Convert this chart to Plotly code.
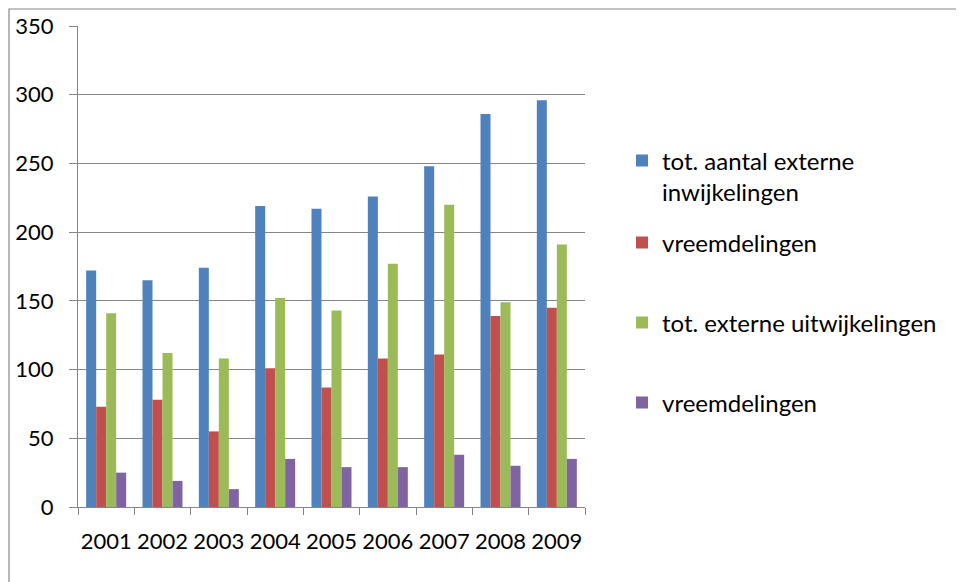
import plotly.graph_objects as go

years = ["2001", "2002", "2003", "2004", "2005", "2006", "2007", "2008", "2009"]
inwijk_totaal = [172, 165, 174, 219, 217, 226, 248, 286, 296]
inwijk_vreemd = [73, 78, 55, 101, 87, 108, 111, 139, 145]
uitwijk_totaal = [141, 112, 108, 152, 143, 177, 220, 149, 191]
uitwijk_vreemd = [25, 19, 13, 35, 29, 29, 38, 30, 35]

names = ["tot. aantal externe<br>inwijkelingen", "vreemdelingen",
         "tot. externe uitwijkelingen", "vreemdelingen"]
colors = ["#4F81BD", "#C0504D", "#9BBB59", "#8064A2"]
series = [inwijk_totaal, inwijk_vreemd, uitwijk_totaal, uitwijk_vreemd]
legends = ["legend", "legend2", "legend3", "legend4"]

FONT = "Lato"
fig = go.Figure()
for nm, col, vals, lg in zip(names, colors, series, legends):
    fig.add_trace(go.Bar(x=years, y=vals, name=nm, marker_color=col,
                         marker_line_width=0, legend=lg, showlegend=True))

# page body has an 8px margin: compensate so screen positions match
OX, OY = 8, 8
W, H = 964, 582
L, T = 78 - OX, 26 - OY
R = W - (585 - OX)
B = H - (507 - OY)
pw, ph = W - L - R, H - T - B

def px_x(p):
    return (p - OX - L) / pw

def px_y(p):
    return (H - B - (p - OY)) / ph

leg_common = dict(font=dict(family=FONT, size=24, color="#000000"),
                  bgcolor="rgba(0,0,0,0)", xanchor="left", itemwidth=30,
                  itemclick=False, valign="top", yanchor="middle")
lx = px_x(622)
fig.update_layout(
    width=W, height=H,
    margin=dict(l=L, r=R, t=T, b=B, pad=0, autoexpand=False),
    showlegend=True,
    paper_bgcolor="white", plot_bgcolor="white",
    barmode="group", bargap=0.29, bargroupgap=0,
    font=dict(family=FONT, size=22, color="#000000"),
    legend=dict(x=lx, y=px_y(176.5), **leg_common),
    legend2=dict(x=lx, y=px_y(243), **leg_common),
    legend3=dict(x=lx, y=px_y(323), **leg_common),
    legend4=dict(x=lx, y=px_y(403), **leg_common),
    xaxis=dict(showgrid=False, showline=True, linecolor="#868686", linewidth=1,
               ticks="outside", ticklen=7, tickcolor="#868686", tickson="boundaries",
               tickangle=0, automargin=False,
               ticklabelstandoff=15, tickfont=dict(family=FONT, size=22, color="#000000")),
    yaxis=dict(range=[0, 350], dtick=50, showgrid=True, gridcolor="#868686", gridwidth=1,
               showline=True, linecolor="#868686", linewidth=1,
               ticks="outside", ticklen=8, tickcolor="#868686", automargin=False,
               ticklabelstandoff=11, zeroline=False,
               tickfont=dict(family=FONT, size=22, color="#000000")),
    shapes=[dict(type="rect", xref="paper", yref="paper",
                 x0=px_x(9), x1=px_x(1100), y0=px_y(700), y1=px_y(9),
                 line=dict(color="#868686", width=1.2), fillcolor="rgba(0,0,0,0)",
                 layer="below")],
)

fig.write_html("out.html")
